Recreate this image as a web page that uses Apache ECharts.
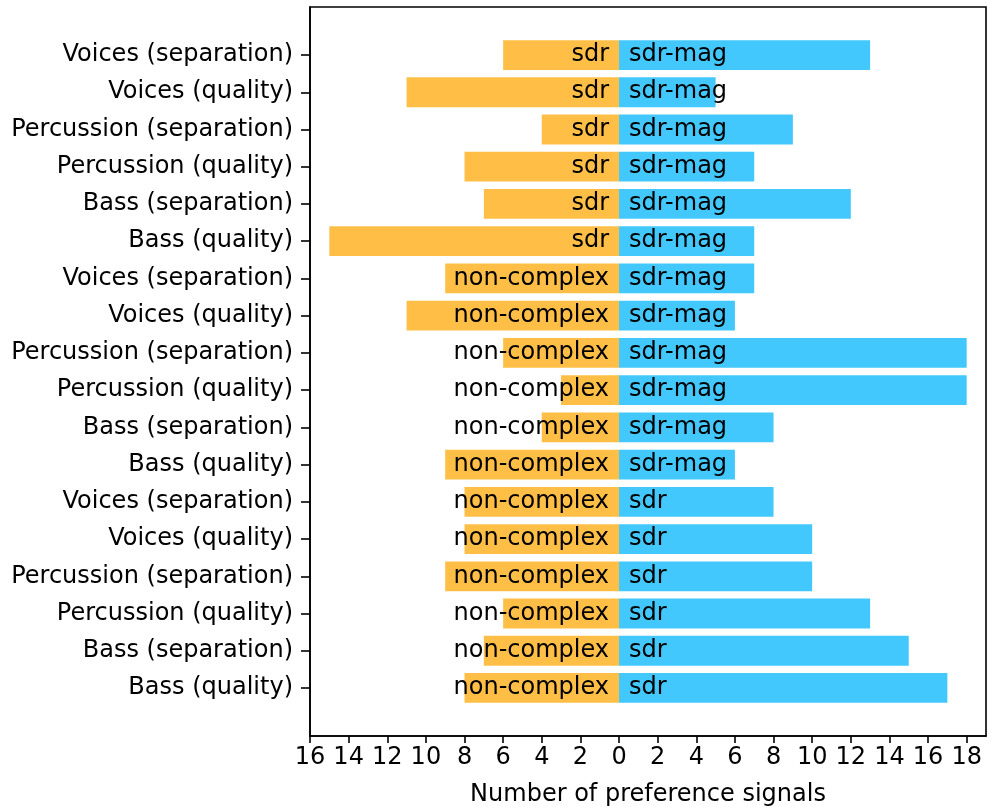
<!DOCTYPE html>
<html>
<head>
<meta charset="utf-8">
<title>Preference signals</title>
<script src="https://cdn.jsdelivr.net/npm/echarts@6/dist/echarts.min.js"></script>
<style>
  html, body { margin: 0; padding: 0; background: #fff; }
  #chart { width: 988px; height: 812px; }
</style>
</head>
<body>
<div id="chart"></div>
<script>
// categories, top to bottom
const categories = [
  'Voices (separation)', 'Voices (quality)', 'Percussion (separation)', 'Percussion (quality)',
  'Bass (separation)', 'Bass (quality)',
  'Voices (separation)', 'Voices (quality)', 'Percussion (separation)', 'Percussion (quality)',
  'Bass (separation)', 'Bass (quality)',
  'Voices (separation)', 'Voices (quality)', 'Percussion (separation)', 'Percussion (quality)',
  'Bass (separation)', 'Bass (quality)'
];
// left side (drawn as negative)
const leftNames = [
  'sdr', 'sdr', 'sdr', 'sdr', 'sdr', 'sdr',
  'non-complex', 'non-complex', 'non-complex', 'non-complex', 'non-complex', 'non-complex',
  'non-complex', 'non-complex', 'non-complex', 'non-complex', 'non-complex', 'non-complex'
];
const leftCounts = [6, 11, 4, 8, 7, 15, 9, 11, 6, 3, 4, 9, 8, 8, 9, 6, 7, 8];
// right side
const rightNames = [
  'sdr-mag', 'sdr-mag', 'sdr-mag', 'sdr-mag', 'sdr-mag', 'sdr-mag',
  'sdr-mag', 'sdr-mag', 'sdr-mag', 'sdr-mag', 'sdr-mag', 'sdr-mag',
  'sdr', 'sdr', 'sdr', 'sdr', 'sdr', 'sdr'
];
const rightCounts = [13, 5, 9, 7, 12, 7, 7, 6, 18, 18, 8, 6, 8, 10, 10, 13, 15, 17];
const xTicks = [-16, -14, -12, -10, -8, -6, -4, -2, 0, 2, 4, 6, 8, 10, 12, 14, 16, 18];

const n = categories.length;
const yPos = categories.map((_, i) => n - 1 - i); // top row gets the highest value
const FONT = 'DejaVu Sans';
const FS = 24;
const ORANGE = '#FFBF47';
const BLUE = '#42C8FC';

/**
 * horizontal bar from 0 to value, height 0.8 in axis units
 */
const makeRender = (color) => (params, api) => {
  const v = api.value(0);
  const y = api.value(1);
  const p0 = api.coord([0, y]);
  const p1 = api.coord([v, y]);
  const h = api.size([0, 0.8])[1];
  return {
    type: 'rect',
    shape: {
      x: Math.min(p0[0], p1[0]),
      y: p0[1] - h / 2,
      width: Math.abs(p1[0] - p0[0]),
      height: h
    },
    style: { fill: color }
  };
};

const labelSeries = (names, side) => ({
  type: 'scatter',
  symbolSize: 0,
  z: 5,
  silent: true,
  itemStyle: { opacity: 1 },
  data: names.map((t, i) => [0, yPos[i], t]),
  label: {
    show: true,
    position: side,
    distance: 10,
    color: '#000',
    opacity: 1,
    fontFamily: FONT,
    fontSize: FS,
    formatter: (p) => p.data[2]
  }
});

const chart = echarts.init(document.getElementById('chart'));

const option = {
  backgroundColor: '#fff',
  animation: false,
  grid: {
    left: 310,
    right: 2,
    top: 7,
    bottom: 76,
    show: true,
    borderColor: '#000',
    borderWidth: 1.6,
    backgroundColor: 'transparent'
  },
  xAxis: {
    type: 'value',
    min: -16,
    max: 19,
    name: 'Number of preference signals',
    nameLocation: 'middle',
    nameGap: 47,
    nameTextStyle: { color: '#000', fontFamily: FONT, fontSize: FS },
    axisLine: { show: true, onZero: false, lineStyle: { color: '#000', width: 1.6 } },
    axisTick: {
      show: true,
      length: 7,
      lineStyle: { color: '#000', width: 1.6 },
      customValues: xTicks
    },
    axisLabel: {
      color: '#000',
      fontFamily: FONT,
      fontSize: FS,
      margin: 10,
      customValues: xTicks,
      formatter: (v) => String(Math.abs(v))
    },
    splitLine: { show: false }
  },
  yAxis: {
    type: 'value',
    min: -1.29,
    max: 18.29,
    axisLine: { show: true, onZero: false, lineStyle: { color: '#000', width: 1.6 } },
    axisTick: {
      show: true,
      length: 9,
      lineStyle: { color: '#000', width: 1.6 },
      customValues: yPos
    },
    axisLabel: {
      color: '#000',
      fontFamily: FONT,
      fontSize: FS,
      margin: 17,
      padding: [3, 0, 0, 0],
      customValues: yPos,
      formatter: (v) => categories[n - 1 - Math.round(v)]
    },
    splitLine: { show: false }
  },
  series: [
    {
      type: 'custom',
      renderItem: makeRender(ORANGE),
      data: leftCounts.map((v, i) => [-v, yPos[i]])
    },
    {
      type: 'custom',
      renderItem: makeRender(BLUE),
      data: rightCounts.map((v, i) => [v, yPos[i]])
    },
    labelSeries(leftNames, 'left'),
    labelSeries(rightNames, 'right')
  ]
};

chart.setOption(option);
</script>
</body>
</html>
